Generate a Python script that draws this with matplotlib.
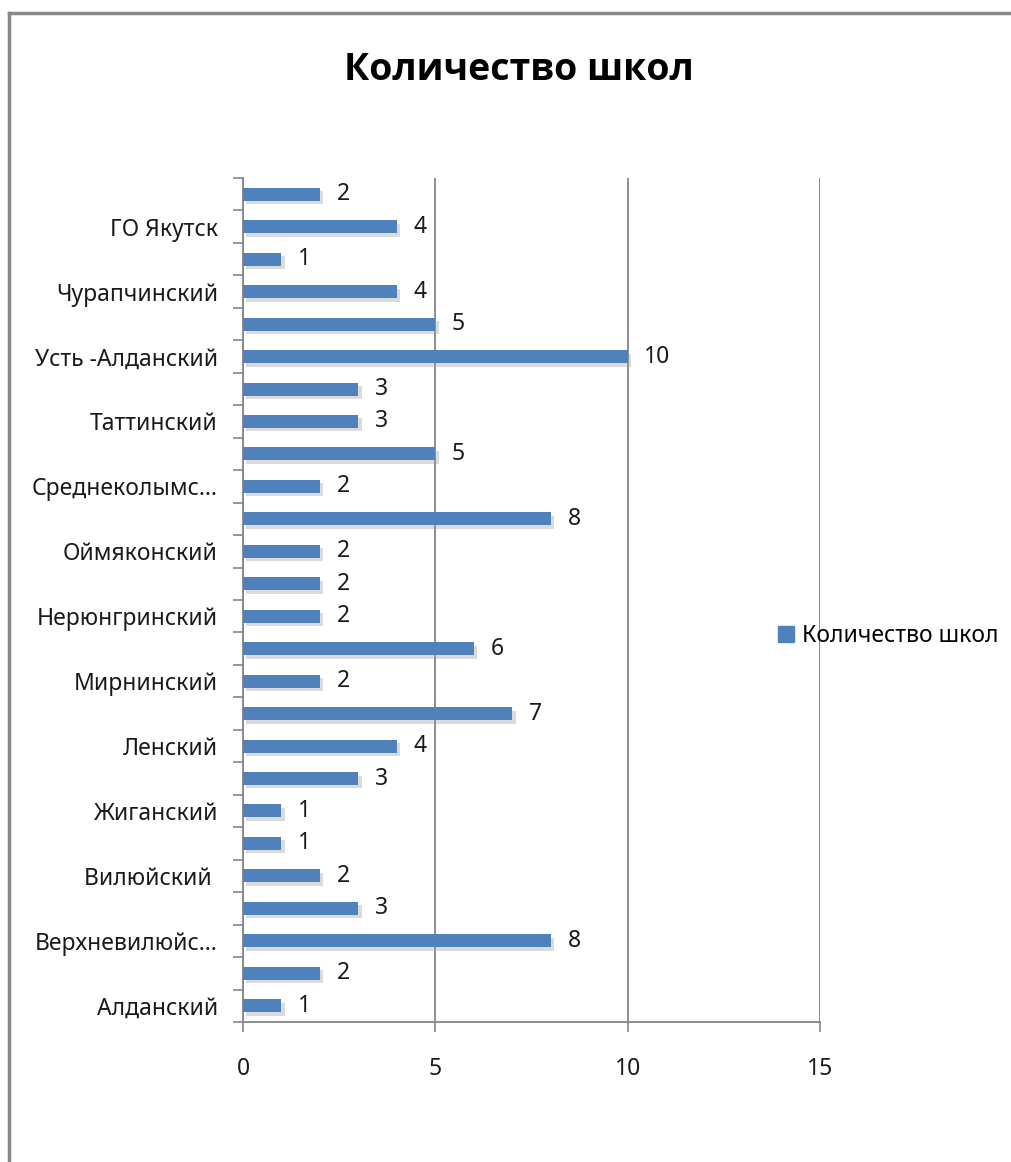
import matplotlib
matplotlib.use('Agg')
import matplotlib.pyplot as plt
import matplotlib.patheffects as pe
from matplotlib.lines import Line2D
import numpy as np

plt.rcParams['font.family'] = ['Noto Sans', 'DejaVu Sans']

# Data (bottom to top), only every other category name is shown on the chart
categories = ['Алданский', '', 'Верхневилюйс…', '', 'Вилюйский ', '', 'Жиганский', '',
              'Ленский', '', 'Мирнинский', '', 'Нерюнгринский', '', 'Оймяконский', '',
              'Среднеколымс…', '', 'Таттинский', '', 'Усть -Алданский', '', 'Чурапчинский', '',
              'ГО Якутск', '']
values = [1, 2, 8, 3, 2, 1, 1, 3, 4, 7, 2, 6, 2, 2, 2, 8, 2, 5, 3, 3, 10, 5, 4, 1, 4, 2]
series_name = 'Количество школ'
x_ticks = [0, 5, 10, 15]

bar_color = '#4F81BD'
grid_color = '#868686'
fs = 16.5

fig = plt.figure(figsize=(10.12, 11.62), dpi=100)
ax = fig.add_axes([0.2401, 0.1205, 0.5702, 0.7263])

y = np.arange(len(values))
bars = ax.barh(y, values, height=0.4, color=bar_color, label=series_name, zorder=3)
for b in bars:
    b.set_path_effects([pe.SimplePatchShadow(offset=(2.5, -2.5), shadow_rgbFace='#999999', alpha=0.35),
                        pe.Normal()])

for yi, v in zip(y, values):
    ax.annotate(str(v), (v, yi), xytext=(12, 0), textcoords='offset points',
                ha='left', va='center', fontsize=fs, color='#1a1a1a')

ax.set_xlim(0, 15)
ax.set_ylim(-0.5, len(values) - 0.5)
ax.set_xticks(x_ticks)
ax.set_xticklabels([str(t) for t in x_ticks], fontsize=fs, color='#1a1a1a')
ax.tick_params(axis='x', length=7, width=1.2, color=grid_color, pad=18)

# y: labels on every other category, tick marks at category boundaries
ax.set_yticks(y[::2])
ax.set_yticklabels(categories[::2], fontsize=fs, color='#1a1a1a')
ax.set_yticks(np.arange(-0.5, len(values), 1.0), minor=True)
ax.tick_params(axis='y', which='major', length=0, pad=18)
ax.tick_params(axis='y', which='minor', length=7, width=1.2, color=grid_color)

ax.xaxis.grid(True, color=grid_color, linewidth=1.3, zorder=0)
ax.set_axisbelow(True)
for s in ['top', 'right']:
    ax.spines[s].set_visible(False)
for s in ['left', 'bottom']:
    ax.spines[s].set_color(grid_color)
    ax.spines[s].set_linewidth(1.3)

fig.text(0.513, 0.940, 'Количество школ', ha='center', va='center',
         fontsize=27, fontweight='bold', color='black', family=['Open Sans', 'DejaVu Sans'])

leg = fig.legend(handles=[Line2D([], [], marker='s', linestyle='none', markersize=11,
                                 color=bar_color, label=series_name)],
                 loc='center left', bbox_to_anchor=(0.745, 0.453), frameon=False,
                 fontsize=fs, handletextpad=0.2, handlelength=1.0)

# outer chart border (left and top)
fig.add_artist(Line2D([0.009, 0.009], [0.0, 0.989], color='#888888', linewidth=2.5))
fig.add_artist(Line2D([0.009, 1.0], [0.989, 0.989], color='#888888', linewidth=2.5))

fig.savefig('out.png', dpi=100)
print('Plot saved')
